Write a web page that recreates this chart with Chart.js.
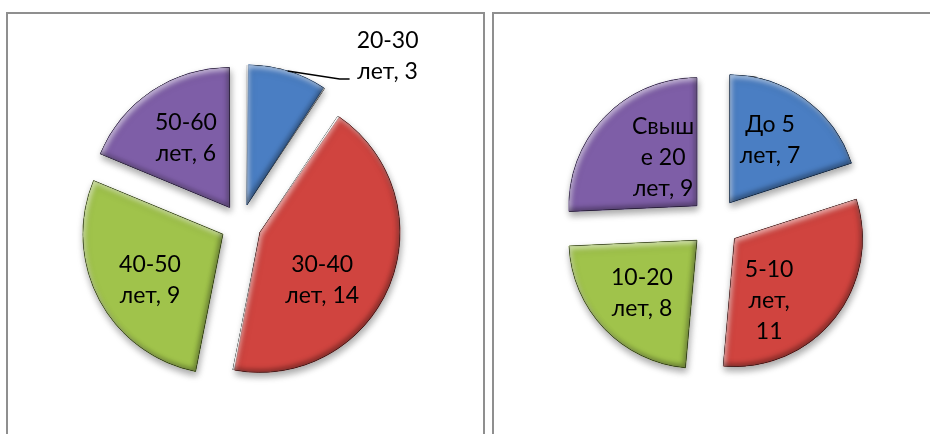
<!DOCTYPE html>
<html><head><meta charset="utf-8">
<script src="https://cdn.jsdelivr.net/npm/chart.js@4"></script>
<style>
html,body{margin:0;padding:0;background:#fff;width:930px;height:434px;overflow:hidden;position:relative;}
.box{position:absolute;top:12px;border:2px solid #8f8f8f;border-bottom:none;box-sizing:border-box;}
#boxL{left:6px;width:479px;height:440px;}
#boxR{left:492px;width:460px;height:440px;}
canvas{position:absolute;top:0;}
</style></head><body>
<div class="box" id="boxL"></div><div class="box" id="boxR"></div>
<canvas id="cL" width="482" height="434" style="left:0px"></canvas>
<canvas id="cR" width="430" height="434" style="left:500px"></canvas>
<script>
// ---- data ----
const ageCategories = ['20-30 лет', '30-40 лет', '40-50 лет', '50-60 лет'];
const ageCounts = [3, 14, 9, 6];
const tenureCategories = ['До 5 лет', '5-10 лет', '10-20 лет', 'Свыше 20 лет'];
const tenureCounts = [7, 11, 8, 9];

// ---- styles ----
const fillColors = ['#4a7ec3', '#d0443f', '#a0c34b', '#7e5ea7'];
const edgeColors = ['#2f5a92', '#983330', '#6f8c2e', '#594080'];
const FONT = '23px Lato';
const LINE_H = 31;

function geom(el, offset) {
  const o = offset / 4;
  const mid = (el.startAngle + el.endAngle) / 2;
  const fix = 1 - Math.sin(Math.min(Math.PI, el.circumference));
  return {cx: el.x + Math.cos(mid) * o, cy: el.y + Math.sin(mid) * o, mid,
          R: el.outerRadius + o * fix};
}
function slicePath(ctx, el, g) {
  ctx.moveTo(g.cx, g.cy);
  ctx.arc(g.cx, g.cy, g.R, el.startAngle, el.endAngle);
  ctx.closePath();
}
function wrap(ctx, text, maxW) {
  const words = text.split(' ');
  const lines = [];
  let cur = '';
  for (const w of words) {
    const t = cur ? cur + ' ' + w : w;
    if (ctx.measureText(t).width <= maxW) { cur = t; continue; }
    if (cur) lines.push(cur);
    if (ctx.measureText(w).width <= maxW) { cur = w; continue; }
    let piece = '';
    for (const ch of w) {
      if (ctx.measureText(piece + ch).width > maxW && piece) { lines.push(piece); piece = ch; }
      else piece += ch;
    }
    cur = piece;
  }
  if (cur) lines.push(cur);
  return lines;
}

const piePlugin = {
  id: 'pieLook',
  afterDatasetUpdate(chart, args) {
    const off = chart.data.datasets[0].offset;
    args.meta.data.forEach(el => {
      const o = off / 4;
      const fix = 1 - Math.sin(Math.min(Math.PI, el.circumference));
      el.outerRadius = el.outerRadius - o * fix;
    });
  },
  beforeDatasetsDraw(chart) {
    const ctx = chart.ctx;
    ctx.save();
    ctx.shadowColor = 'rgba(0,0,0,0.35)';
    ctx.shadowBlur = 7;
    ctx.shadowOffsetX = 1;
    ctx.shadowOffsetY = 4;
  },
  afterDatasetsDraw(chart, args, opts) {
    const ctx = chart.ctx;
    ctx.restore();
    const ds = chart.data.datasets[0];
    const meta = chart.getDatasetMeta(0);
    const off = ds.offset;
    // bevel
    meta.data.forEach(el => {
      const g = geom(el, off);
      ctx.save();
      ctx.beginPath(); slicePath(ctx, el, g); ctx.clip();
      const pass = (color, dx, dy, blur) => {
        ctx.save();
        ctx.shadowColor = color; ctx.shadowBlur = blur;
        ctx.shadowOffsetX = dx; ctx.shadowOffsetY = dy;
        ctx.beginPath();
        ctx.rect(-3000, -3000, 7000, 7000);
        slicePath(ctx, el, g);
        ctx.fillStyle = '#000';
        ctx.fill('evenodd');
        ctx.restore();
      };
      pass('rgba(255,255,255,0.55)', 2, 3, 5);
      pass('rgba(0,0,0,0.35)', -2, -3, 5);
      ctx.restore();
    });
    // labels
    ctx.save();
    ctx.font = FONT;
    ctx.fillStyle = '#000';
    ctx.textAlign = 'center';
    ctx.textBaseline = 'middle';
    meta.data.forEach((el, i) => {
      const g = geom(el, off);
      const text = chart.data.labels[i] + ', ' + ds.data[i];
      const lines = wrap(ctx, text, opts.maxW);
      let x, y;
      if (opts.outside && opts.outside.index === i) {
        const ox = g.cx + Math.cos(g.mid) * g.R, oy = g.cy + Math.sin(g.mid) * g.R;
        const s = opts.outside;
        ctx.save();
        ctx.strokeStyle = '#000'; ctx.lineWidth = 1.5;
        ctx.beginPath();
        ctx.moveTo(ox, oy);
        ctx.lineTo(ox + 52, oy + 8);
        ctx.lineTo(ox + 62, oy + 8);
        ctx.stroke();
        ctx.restore();
        x = ox + s.dx; y = oy + s.dy;
      } else {
        const p = opts.place[i];
        const a = g.mid + p[0] * Math.PI / 180;
        x = g.cx + Math.cos(a) * g.R * p[1];
        y = g.cy + Math.sin(a) * g.R * p[1];
      }
      const y0 = y - (lines.length - 1) * LINE_H / 2;
      lines.forEach((ln, k) => ctx.fillText(ln, x, y0 + k * LINE_H));
    });
    ctx.restore();
  }
};

function makePie(id, labels, values, radius, offset, padTop, pluginOpts) {
  return new Chart(document.getElementById(id), {
    type: 'pie',
    data: {
      labels: labels,
      datasets: [{
        data: values,
        backgroundColor: fillColors,
        borderColor: edgeColors,
        borderWidth: 1,
        offset: offset,
        hoverOffset: 0
      }]
    },
    options: {
      responsive: false,
      animation: false,
      events: [],
      radius: radius,
      layout: {padding: {top: padTop, left: 0, right: 0, bottom: 0}},
      plugins: {legend: {display: false}, tooltip: {enabled: false}, pieLook: pluginOpts}
    },
    plugins: [piePlugin]
  });
}

makePie('cL', ageCategories, ageCounts, 140, 82, 15, {
  maxW: 84,
  outside: {index: 0, dx: 100, dy: -15},
  place: [[0, 0.6], [15, 0.56], [-4, 0.615], [1.6, 0.586]]
});
makePie('cR', tenureCategories, tenureCounts, 128, 100, 12, {
  maxW: 67,
  place: [[-3.3, 0.583], [22.4, 0.557], [0, 0.594], [11, 0.457]]
});
</script>
</body></html>
